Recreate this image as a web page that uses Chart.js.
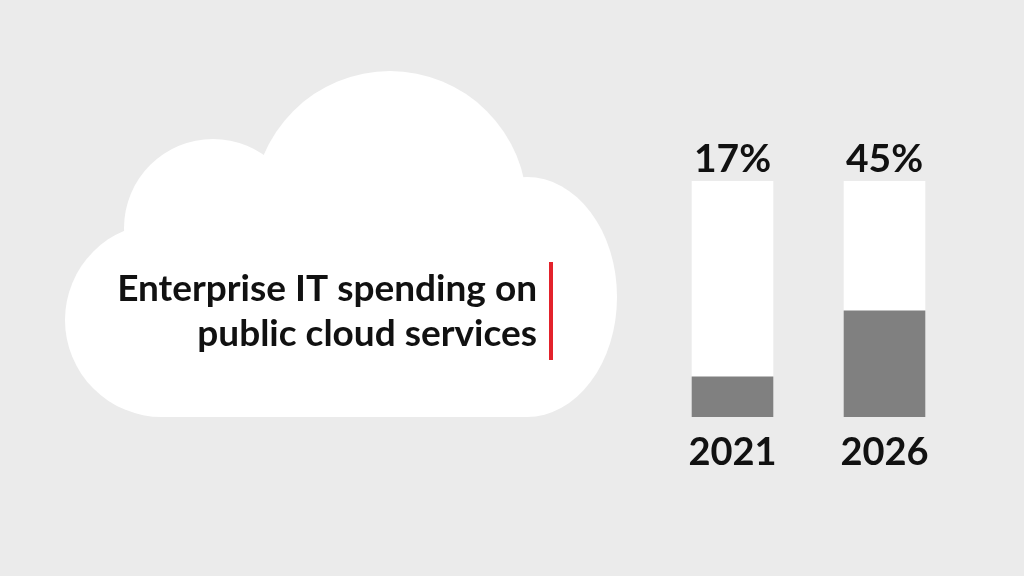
<!DOCTYPE html>
<html>
<head>
<meta charset="utf-8">
<script src="https://cdn.jsdelivr.net/npm/chart.js@4"></script>
<style>
  html, body { margin: 0; padding: 0; background: #ebebeb; }
  #wrap { width: 1024px; height: 576px; position: relative; }
</style>
</head>
<body>
<div id="wrap"><canvas id="chart"></canvas></div>
<script>
// data
const years = ["2021", "2026"];
const shares = [17, 45];          // % of enterprise IT spending on public cloud
const track = [100, 100];         // full-height white bar behind each value
const titleLines = ["Enterprise IT spending on", "public cloud services"];

const FONT = "Lato";

// white cloud + caption behind the chart
const cloudPlugin = {
  id: "cloud",
  beforeDraw(chart) {
    const ctx = chart.ctx;
    ctx.save();
    ctx.fillStyle = "#ebebeb";
    ctx.fillRect(0, 0, chart.width, chart.height);

    ctx.fillStyle = "#ffffff";
    const lobes = [
      [162, 320, 97, 97],   // bottom-left lobe
      [213, 228, 89, 89],   // left upper lobe
      [390, 208, 137, 137], // big top lobe
      [527, 297, 90, 120]   // right lobe
    ];
    lobes.forEach(l => {
      ctx.beginPath();
      ctx.ellipse(l[0], l[1], l[2], l[3], 0, 0, Math.PI * 2);
      ctx.fill();
    });
    ctx.fillRect(160, 240, 367, 177);

    // caption
    ctx.fillStyle = "#111111";
    ctx.font = "bold 37px " + FONT;
    ctx.textAlign = "right";
    ctx.textBaseline = "alphabetic";
    ctx.fillText(titleLines[0], 537, 301);
    ctx.fillText(titleLines[1], 537, 346);

    ctx.fillStyle = "#e3222b";
    ctx.fillRect(549, 262, 4, 98);
    ctx.restore();
  }
};

// percentage labels above each bar
const pctPlugin = {
  id: "pct",
  afterDatasetsDraw(chart) {
    const ctx = chart.ctx;
    const meta = chart.getDatasetMeta(1);
    ctx.save();
    ctx.fillStyle = "#111111";
    ctx.font = "bold 39px " + FONT;
    ctx.textAlign = "center";
    ctx.textBaseline = "alphabetic";
    meta.data.forEach((bar, i) => {
      ctx.fillText(shares[i] + "%", bar.x, chart.chartArea.top - 9);
    });
    ctx.restore();
  }
};

new Chart(document.getElementById("chart"), {
  type: "bar",
  data: {
    labels: years,
    datasets: [
      {
        label: "value",
        data: shares,
        backgroundColor: "#808080",
        grouped: false,
        order: 0,
        barThickness: 81
      },
      {
        label: "track",
        data: track,
        backgroundColor: "#ffffff",
        grouped: false,
        order: 1,
        barThickness: 81
      }
    ]
  },
  options: {
    responsive: true,
    maintainAspectRatio: false,
    animation: false,
    layout: { padding: { left: 656.5, right: 63.5, top: 181, bottom: 0 } },
    plugins: { legend: { display: false }, tooltip: { enabled: false } },
    scales: {
      y: { display: false, min: 0, max: 100 },
      x: {
        grid: { display: false, drawTicks: false },
        border: { display: false },
        ticks: {
          color: "#111111",
          font: { family: FONT, size: 38, weight: "bold" },
          padding: 13
        },
        afterFit(scale) { scale.height = 576 - 417; }
      }
    }
  },
  plugins: [cloudPlugin, pctPlugin]
});
</script>
</body>
</html>
